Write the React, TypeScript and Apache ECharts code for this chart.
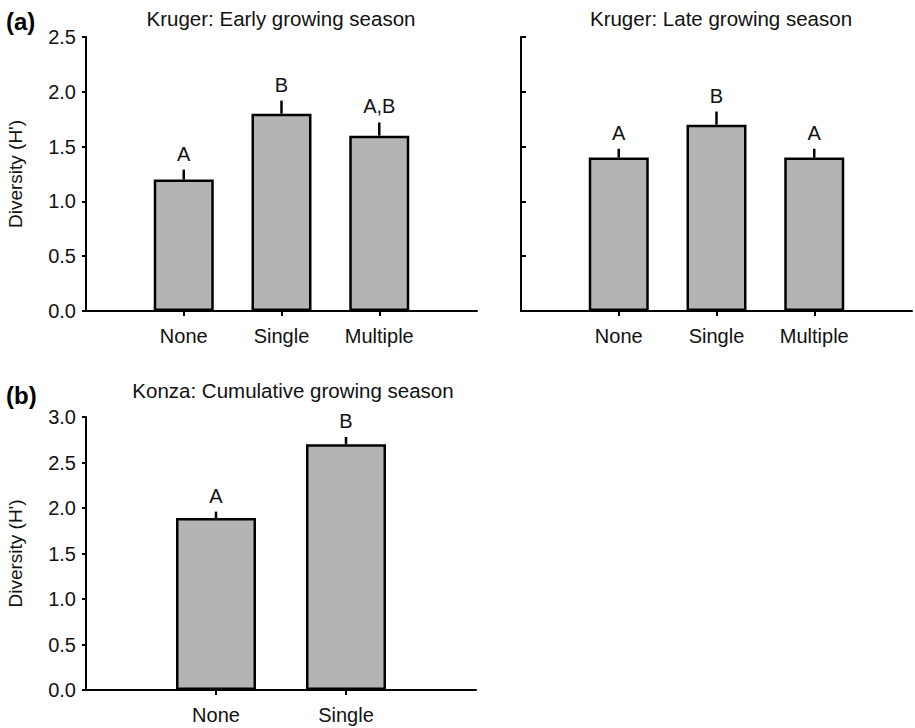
import React, { useEffect, useRef } from "react";
import * as echarts from "echarts";

// ---- data ----
const krugerCategories = ["None", "Single", "Multiple"];
const konzaCategories = ["None", "Single"];

const earlyMeans = [1.2, 1.8, 1.6];
const earlyErrors = [0.09, 0.12, 0.12];
const earlyLetters = ["A", "B", "A,B"];

const lateMeans = [1.4, 1.7, 1.4];
const lateErrors = [0.08, 0.12, 0.08];
const lateLetters = ["A", "B", "A"];

const konzaMeans = [1.89, 2.7];
const konzaErrors = [0.07, 0.08];
const konzaLetters = ["A", "B"];

const krugerYMax = 2.5;
const konzaYMax = 3.0;
const yStep = 0.5;

const panelTitles = [
  "Kruger: Early growing season",
  "Kruger: Late growing season",
  "Konza: Cumulative growing season",
];
const yName = "Diversity (H')";

const FONT = "'Liberation Sans', Arial, Helvetica, sans-serif";
const TEXT = "#111";

export default function App() {
  const ref = useRef<HTMLDivElement>(null);

  useEffect(() => {
    document.body.style.margin = "0";
    const chart = echarts.init(ref.current!, null, { renderer: "svg" });

    const panels = [
      { cats: krugerCategories, means: earlyMeans, errs: earlyErrors, letters: earlyLetters, max: krugerYMax, showLabels: true, barWidth: 60 },
      { cats: krugerCategories, means: lateMeans, errs: lateErrors, letters: lateLetters, max: krugerYMax, showLabels: false, barWidth: 60 },
      { cats: konzaCategories, means: konzaMeans, errs: konzaErrors, letters: konzaLetters, max: konzaYMax, showLabels: true, barWidth: 80 },
    ];

    const axisLine = { show: true, lineStyle: { color: "#000", width: 2 } };

    const xAxis = panels.map((p, i) => ({
      type: "category",
      gridIndex: i,
      data: ["", ...p.cats, ""],
      boundaryGap: false,
      axisLine,
      axisTick: {
        show: true,
        inside: false,
        length: 5,
        interval: (_idx: number, v: string) => v !== "",
        lineStyle: { color: "#000", width: 2 },
      },
      axisLabel: { interval: 0, margin: 15, fontSize: 20, color: TEXT, fontFamily: FONT },
      splitLine: { show: false },
    }));

    const yAxis = panels.map((p, i) => ({
      type: "value",
      gridIndex: i,
      min: 0,
      max: p.max,
      interval: yStep,
      axisLine,
      axisTick: {
        show: true,
        inside: !p.showLabels,
        length: p.showLabels ? 4 : 5,
        lineStyle: { color: "#000", width: 2 },
      },
      axisLabel: {
        show: p.showLabels,
        formatter: (v: number) => v.toFixed(1),
        margin: 10,
        fontSize: 20,
        color: TEXT,
        fontFamily: FONT,
      },
      splitLine: { show: false },
      name: p.showLabels ? yName : "",
      nameLocation: "middle",
      nameGap: 61,
      nameTextStyle: { fontSize: 19, color: TEXT, fontFamily: FONT },
    }));

    const series: any[] = [];
    panels.forEach((p, i) => {
      series.push({
        type: "bar",
        xAxisIndex: i,
        yAxisIndex: i,
        data: p.means.map((m, j) => [j + 1, m]),
        barWidth: p.barWidth,
        itemStyle: { color: "#b4b4b4", borderColor: "#000", borderWidth: 2.5 },
        z: 2,
      });
      series.push({
        type: "custom",
        xAxisIndex: i,
        yAxisIndex: i,
        data: p.means.map((m, j) => [j + 1, m, p.errs[j]]),
        z: 3,
        renderItem: (params: any, api: any) => {
          const x = api.value(0);
          const m = api.value(1);
          const e = api.value(2);
          const p0 = api.coord([x, m]);
          const p1 = api.coord([x, m + e]);
          return {
            type: "group",
            children: [
              {
                type: "line",
                shape: { x1: p0[0], y1: p0[1], x2: p1[0], y2: p1[1] },
                style: { stroke: "#000", lineWidth: 2.5 },
              },
              {
                type: "text",
                x: p1[0],
                y: p1[1] - 16,
                style: {
                  text: p.letters[params.dataIndex],
                  align: "center",
                  verticalAlign: "middle",
                  fontSize: 20,
                  fontFamily: FONT,
                  fill: TEXT,
                },
              },
            ],
          };
        },
      });
    });

    const titleText = (text: string, x: number, y: number) => ({
      type: "text",
      x,
      y,
      style: { text, align: "center", verticalAlign: "middle", fontSize: 20.5, fontFamily: FONT, fill: TEXT },
    });
    const panelLabel = (text: string, x: number, y: number) => ({
      type: "text",
      x,
      y,
      style: { text, align: "left", verticalAlign: "middle", fontSize: 24, fontWeight: "bold", fontFamily: FONT, fill: "#000" },
    });

    chart.setOption({
      animation: false,
      backgroundColor: "#fff",
      grid: [
        { left: 86, top: 37, width: 391, height: 274 },
        { left: 521, top: 37, width: 392, height: 274 },
        { left: 86, top: 417, width: 390, height: 273 },
      ],
      xAxis,
      yAxis,
      series,
      graphic: [
        titleText(panelTitles[0], 281, 18),
        titleText(panelTitles[1], 721, 18),
        titleText(panelTitles[2], 293, 390),
        panelLabel("(a)", 6, 21),
        panelLabel("(b)", 6, 395),
      ],
    });

    return () => chart.dispose();
  }, []);

  return <div ref={ref} style={{ position: "absolute", left: 0, top: 0, width: 915, height: 728 }} />;
}
